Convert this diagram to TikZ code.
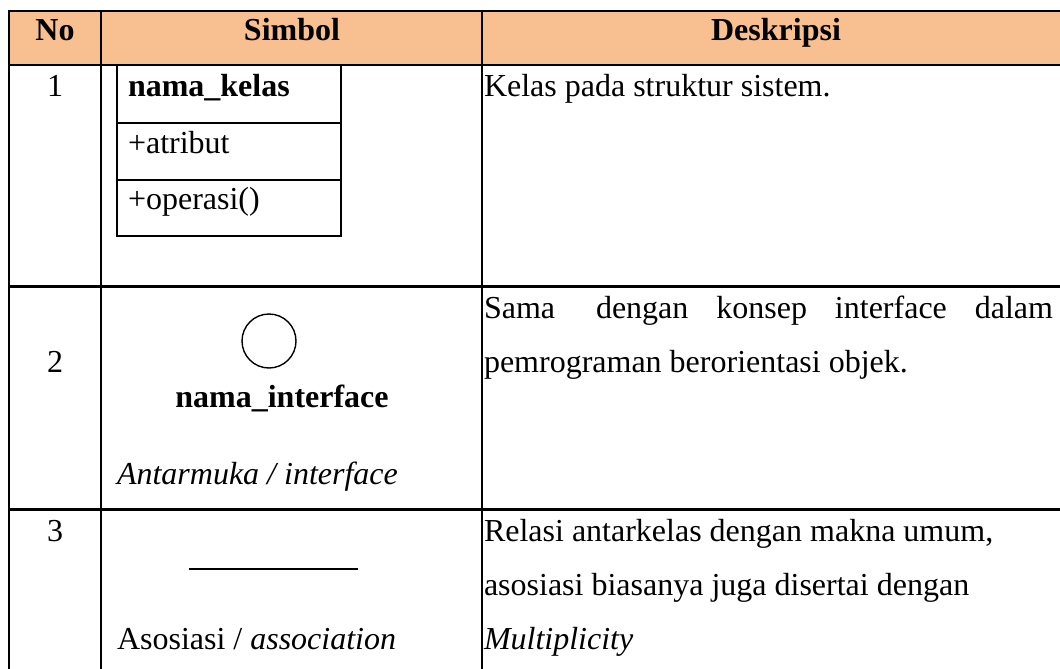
\documentclass[tikz,border=0pt]{standalone}
\usepackage{fontspec}
\setmainfont{Liberation Serif}
\definecolor{hdrfill}{RGB}{248,192,144}
\begin{document}
\begin{tikzpicture}[x=1pt,y=-1pt,
  txt/.style={inner sep=0pt, outer sep=0pt, font=\fontsize{32}{54}\selectfont},
  hdr/.style={txt, anchor=base, font=\fontsize{32}{54}\selectfont\bfseries},
  num/.style={txt, anchor=base},
  lft/.style={txt, anchor=base west},
  rule/.style={line width=2.2pt, line cap=rect},
  symline/.style={line width=2pt},
  thin/.style={line width=1.4pt}]
\useasboundingbox (0,0) rectangle (1060,669);
% header fill
\fill[hdrfill] (9,11) rectangle (1064,65);
% table grid
\draw[rule] (1064,11) -- (9,11) -- (9,672);
\draw[rule] (9,65) -- (1064,65);
\draw[rule] (9,286.5) -- (1064,286.5);
\draw[rule] (9,509.5) -- (1064,509.5);
\draw[rule] (101,11) -- (101,672);
\draw[rule] (482,11) -- (482,672);
% header
\node[hdr] (hno) at (55,41) {No};
\node[hdr] (hsym) at (292,41) {Simbol};
\node[hdr] (hdesk) at (776,41) {Deskripsi};
% row 1
\node[num] (n1) at (55,96) {1};
\draw[symline] (117,65) rectangle (341,236);
\draw[symline] (117,123) -- (341,123);
\draw[symline] (117,180) -- (341,180);
\node[lft, font=\fontsize{32}{54}\selectfont\bfseries] (cname) at (128,96) {nama\_kelas};
\node[lft] (cattr) at (128,153) {+atribut};
\node[lft] (cop) at (128,209) {+operasi()};
\node[lft] (d1) at (484,96) {Kelas pada struktur sistem.};
% row 2
\node[num] (n2) at (55,372) {2};
\node[draw, thin, circle, minimum size=54pt, inner sep=0pt] (iface) at (269,341) {};
\node[hdr] (iname) at (282,407) {nama\_interface};
\node[lft] (ilabel) at (117,484) {\itshape Antarmuka / interface};
\node[lft] (d2a) at (484,318) {\makebox[569pt][s]{Sama\hspace{13pt}\hfill dengan\hfill konsep\hfill interface\hfill dalam}};
\node[lft] (d2b) at (484,372) {pemrograman berorientasi objek.};
% row 3
\node[num] (n3) at (55,541) {3};
\coordinate (aL) at (189,569);
\coordinate (aR) at (358,569);
\draw[symline] (aL) -- (aR);
\node[lft] (alabel) at (117,649) {Asosiasi / \textit{association}};
\node[lft] (d3a) at (484,541) {Relasi antarkelas dengan makna umum,};
\node[lft] (d3b) at (484,595) {asosiasi biasanya juga disertai dengan};
\node[lft] (d3c) at (484,649) {\itshape Multiplicity};
\end{tikzpicture}
\end{document}
